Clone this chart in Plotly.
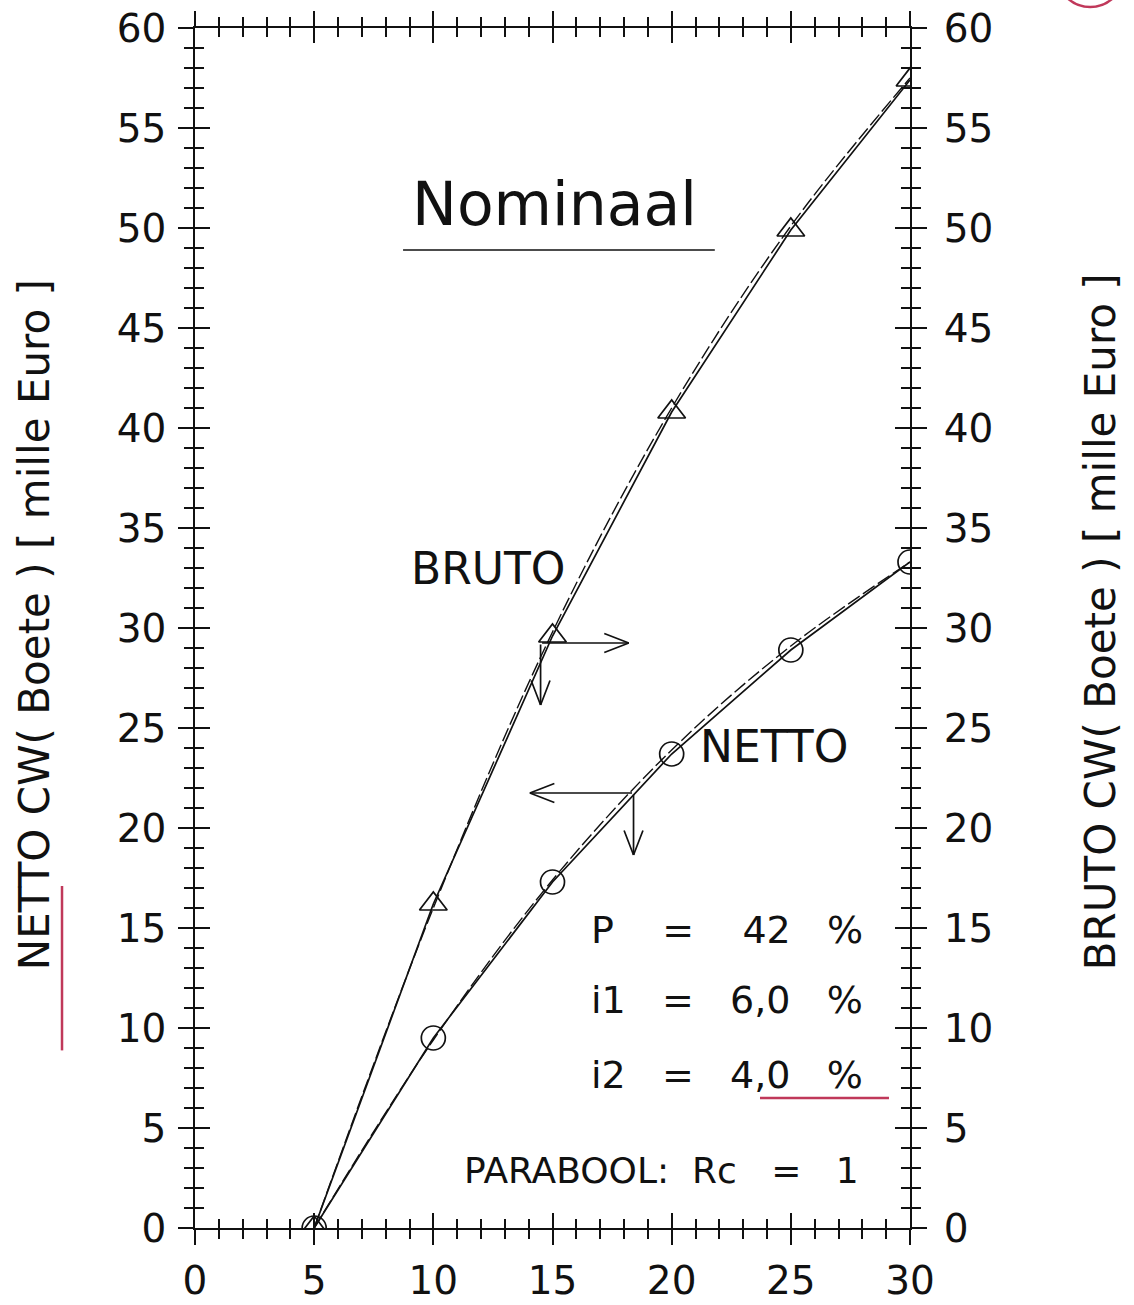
import plotly.graph_objects as go

# ---- data ----
years = [5, 10, 15, 20, 25, 30]
bruto = [0.0, 16.2, 29.6, 40.8, 49.9, 57.4]
netto = [0.0, 9.5, 17.3, 23.7, 28.9, 33.3]
bruto_fit = [0.0, 16.0, 29.8, 41.0, 50.1, 57.5]
netto_fit = [0.0, 9.4, 17.4, 23.9, 29.1, 33.3]

x_ticks = [0, 5, 10, 15, 20, 25, 30]
y_ticks = [0, 5, 10, 15, 20, 25, 30, 35, 40, 45, 50, 55, 60]

# arrows: origin, horizontal end, vertical end
bruto_arrow = {"x0": 14.5, "y0": 29.25, "x1": 18.2, "y1": 26.15}
netto_arrow = {"x0": 18.4, "y0": 21.75, "x1": 14.05, "y1": 18.65}

FONT = "DejaVu Sans ExtraLight, DejaVu Sans, sans-serif"
BLACK = "#111111"
RED = "#c0385a"

fig = go.Figure()

fig.add_trace(go.Scatter(x=years, y=bruto_fit, mode="lines", line=dict(color=BLACK, width=1.4, dash="14px,4px", shape="spline"), showlegend=False, hoverinfo="skip"))
fig.add_trace(go.Scatter(x=years, y=netto_fit, mode="lines", line=dict(color=BLACK, width=1.4, dash="14px,4px", shape="spline"), showlegend=False, hoverinfo="skip"))
fig.add_trace(go.Scatter(x=years, y=bruto, mode="lines+markers", name="BRUTO",
                         line=dict(color=BLACK, width=1.7),
                         marker=dict(symbol="triangle-up-open", size=24, color=BLACK, line=dict(width=1.7, color=BLACK)),
                         showlegend=False))
fig.add_trace(go.Scatter(x=years, y=netto, mode="lines+markers", name="NETTO",
                         line=dict(color=BLACK, width=1.7),
                         marker=dict(symbol="circle-open", size=24, color=BLACK, line=dict(width=1.7, color=BLACK)),
                         showlegend=False))
# invisible trace for overlay axes
fig.add_trace(go.Scatter(x=years, y=netto, xaxis="x2", yaxis="y2", mode="markers",
                         marker=dict(opacity=0), showlegend=False, hoverinfo="skip"))

tickfont = dict(family=FONT, size=39, color=BLACK)
common = dict(showgrid=False, zeroline=False, showline=True, linecolor=BLACK, linewidth=1.7,
              tickcolor=BLACK, tickwidth=1.7, ticklen=15, mirror="allticks", automargin=False,
              ticklabeloverflow="allow")

fig.update_layout(
    width=1134, height=1305,
    paper_bgcolor="white", plot_bgcolor="white",
    margin=dict(l=195, r=224, t=28, b=77),
    xaxis=dict(range=[0, 30], tickvals=x_ticks, ticks="outside", tickfont=tickfont,
               minor=dict(dtick=1, ticklen=9, tickwidth=1.7, tickcolor=BLACK, ticks="outside"),
               ticklabelstandoff=2, **common),
    xaxis2=dict(range=[0, 30], overlaying="x", matches="x", side="bottom", tickvals=x_ticks,
                ticks="inside", showticklabels=False,
                minor=dict(dtick=1, ticklen=9, tickwidth=1.7, tickcolor=BLACK, ticks="inside"), **common),
    yaxis=dict(range=[0, 60], tickvals=y_ticks, ticks="outside", tickfont=tickfont,
               minor=dict(dtick=1, ticklen=9, tickwidth=1.7, tickcolor=BLACK, ticks="outside"),
               ticklabelstandoff=4, **common),
    yaxis2=dict(range=[0, 60], overlaying="y", matches="y", side="right", tickvals=y_ticks,
                ticks="inside", showticklabels=True, tickfont=tickfont, ticklabelstandoff=24,
                minor=dict(dtick=1, ticklen=9, tickwidth=1.7, tickcolor=BLACK, ticks="inside"), **common),
)

ann = []
def txt(x, y, s, size, xanchor="center", xref="x", yref="y", angle=0):
    ann.append(dict(x=x, y=y, xref=xref, yref=yref, text=s, showarrow=False, xanchor=xanchor,
                    yanchor="middle", textangle=angle, font=dict(family=FONT, size=size, color=BLACK)))

NB = "\u00a0"
S3 = NB * 3
txt(15.1, 51.2, "Nominaal", 60)
txt(12.3, 33.0, "BRUTO", 44)
txt(24.3, 24.1, "NETTO", 44)
txt(28.1, 14.9, f"P{NB*4}={NB*4}42{NB*3}%", 38, xanchor="right")
txt(28.1, 11.4, f"i1{S3}={S3}6,0{S3}%", 38, xanchor="right")
txt(28.1, 7.65, f"i2{S3}={S3}4,0{S3}%", 38, xanchor="right")
txt(27.95, 2.9, f"PARABOOL:{NB*2}Rc{S3}={S3}1", 36, xanchor="right")
txt(-0.224, 0.503, "NETTO CW( Boete ) [ mille Euro ]", 42, xref="paper", yref="paper", angle=-90)
txt(1.266, 0.505, "BRUTO CW( Boete ) [ mille Euro ]", 42, xref="paper", yref="paper", angle=-90)

def arrow(x0, y0, x1, y1, heads):
    ann.append(dict(x=x1, y=y1, ax=x0, ay=y0, xref="x", yref="y", axref="x", ayref="y", text="",
                    showarrow=True, arrowhead=0, arrowwidth=1.7, arrowcolor=BLACK, standoff=0, startstandoff=0))
    for (dx, dy) in heads:
        ann.append(dict(x=x1, y=y1, ax=dx, ay=dy, xref="x", yref="y", text="",
                        showarrow=True, arrowhead=0, arrowwidth=1.7, arrowcolor=BLACK, standoff=0, startstandoff=0))

b = bruto_arrow
arrow(b["x0"], b["y0"], b["x1"], b["y0"], [(-26, -10), (-26, 10)])
arrow(b["x0"], b["y0"], b["x0"], b["y1"], [(-10, -26), (10, -26)])
n = netto_arrow
arrow(n["x0"], n["y0"], n["x1"], n["y0"], [(26, -10), (26, 10)])
arrow(n["x0"], n["y0"], n["x0"], n["y1"], [(-10, -26), (10, -26)])

fig.update_layout(annotations=ann)

shapes = [
    # underline of title
    dict(type="line", xref="paper", yref="paper", x0=0.291, x1=0.727, y0=0.815, y1=0.815,
         line=dict(color=BLACK, width=1.7)),
    # hand-drawn red marks
    dict(type="line", xref="paper", yref="paper", x0=0.7902, x1=0.9706, y0=0.1083, y1=0.1083,
         line=dict(color=RED, width=2.5)),
    dict(type="line", xref="paper", yref="paper", x0=-0.1860, x1=-0.1860, y0=0.148, y1=0.285,
         line=dict(color=RED, width=2.5)),
    dict(type="circle", xref="paper", yref="paper", x0=1.203, x1=1.301, y0=1.0175, y1=1.079,
         line=dict(color=RED, width=2.5)),
]
fig.update_layout(shapes=shapes)

fig.write_html("out.html", config={"displayModeBar": False},
               post_script="document.body.style.margin='0';document.body.style.overflow='hidden';")
